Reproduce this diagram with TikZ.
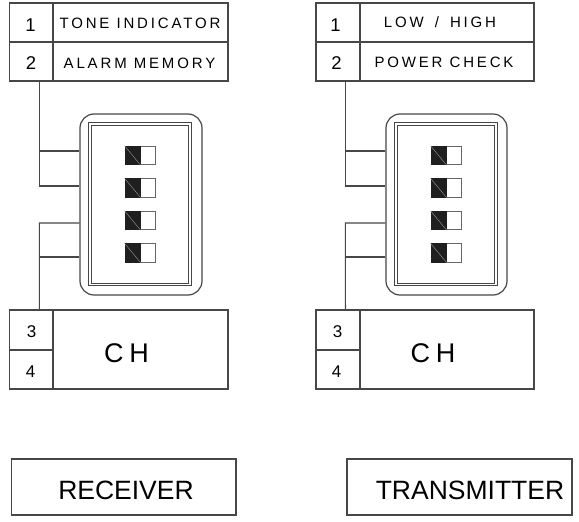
\documentclass[tikz,border=0pt]{standalone}
\usepackage{fontspec}
\setmainfont{Liberation Sans}
\newfontfamily\spaced[LetterSpace=19]{Liberation Sans}
\usetikzlibrary{calc}
\tikzset{
  ln/.style={draw=black!72, line width=1.1pt},
  cell/.style={ln, rectangle, inner sep=0pt},
  txt/.style={inner sep=0pt, text depth=0pt},
  numA/.style={txt, font=\fontsize{18.5}{18.5}\selectfont},
  numB/.style={txt, font=\fontsize{17}{17}\selectfont},
  lbl/.style={txt, font=\spaced\fontsize{15}{15}\selectfont},
  chtxt/.style={txt, font=\fontsize{27}{27}\selectfont},
  bigtxt/.style={txt, font=\fontsize{26.5}{26.5}\selectfont},
  dipbox/.style={ln, line width=1.2pt, rounded corners=14pt, inner sep=0pt},
  frame/.style={draw=black!72, line width=0.9pt},
  slotbox/.style={draw=black!60, line width=0.8pt, fill=white, inner sep=0pt, minimum width=30, minimum height=18.5},
  knob/.style={fill=black!88},
  gl/.style={draw=black!40, line width=0.4pt},
}
\begin{document}
\begin{tikzpicture}[x=1pt,y=-1pt]
\useasboundingbox (0,0) rectangle (579,522);

% ---------- left top table
\node[cell, minimum width=43.5, minimum height=39] (n1L) at (31.25,22.5) {};
\node[cell, minimum width=175, minimum height=39] (t1L) at (140.5,22.5) {};
\node[cell, minimum width=43.5, minimum height=39] (n2L) at (31.25,61.5) {};
\node[cell, minimum width=175, minimum height=39] (t2L) at (140.5,61.5) {};
\node[numA] (x1L) at (30.5,25) {1};
\node[numA] (x2L) at (31,63.3) {2};
\node[lbl] (y1L) at (140,23.3) {TONE INDICATOR};
\node[lbl] (y2L) at (139.5,63) {ALARM MEMORY};

% ---------- right top table
\node[cell, minimum width=44, minimum height=39] (n1R) at (338,22.5) {};
\node[cell, minimum width=174, minimum height=39] (t1R) at (447,22.5) {};
\node[cell, minimum width=44, minimum height=39] (n2R) at (338,61.5) {};
\node[cell, minimum width=174, minimum height=39] (t2R) at (447,61.5) {};
\node[numA] (x1R) at (335.5,25) {1};
\node[numA] (x2R) at (336.5,63.3) {2};
\node[lbl] (y1R) at (440,22.5) {LOW\hspace{4pt} / \hspace{4pt}HIGH};
\node[lbl] (y2R) at (444,62.5) {POWER CHECK};

% ---------- left bottom table
\node[cell, minimum width=43.5, minimum height=40] (n3L) at (31.25,330) {};
\node[cell, minimum width=43.5, minimum height=39] (n4L) at (31.25,369.5) {};
\node[cell, minimum width=175, minimum height=79] (chL) at (140.5,349.5) {};
\node[numB] (x3L) at (31.7,332) {3};
\node[numB] (x4L) at (30.5,372) {4};
\node[chtxt] (hL) at (126.5,352.7) {C\hspace{6pt}H};

% ---------- right bottom table
\node[cell, minimum width=44, minimum height=40] (n3R) at (338,330) {};
\node[cell, minimum width=44, minimum height=39] (n4R) at (338,369.5) {};
\node[cell, minimum width=174, minimum height=79] (chR) at (447,349.5) {};
\node[numB] (x3R) at (337.5,332) {3};
\node[numB] (x4R) at (336.5,372) {4};
\node[chtxt] (hR) at (433,352.7) {C\hspace{6pt}H};

% ---------- DIP switch blocks
\node[dipbox, minimum width=122, minimum height=181] (swL) at (141,204.5) {};
\draw[frame] ([shift={(9,9)}]swL.north west) rectangle ([shift={(-11,-10)}]swL.south east);
\draw[frame] ([shift={(12,12)}]swL.north west) rectangle ([shift={(-14,-12)}]swL.south east);

\node[dipbox, minimum width=121, minimum height=181] (swR) at (446.5,204.5) {};
\draw[frame] ([shift={(9,9)}]swR.north west) rectangle ([shift={(-10,-10)}]swR.south east);
\draw[frame] ([shift={(12,12)}]swR.north west) rectangle ([shift={(-13,-12)}]swR.south east);

\foreach \i/\yy in {1/155.5, 2/188, 3/220.5, 4/253}{
  \node[slotbox] (sL\i) at (140,\yy) {};
  \fill[knob] (sL\i.north west) rectangle ([xshift=16pt]sL\i.south west);
  \draw[gl] (sL\i.north west) -- ([xshift=16pt]sL\i.south west);
  \node[slotbox] (sR\i) at (446,\yy) {};
  \fill[knob] (sR\i.north west) rectangle ([xshift=16pt]sR\i.south west);
  \draw[gl] (sR\i.north west) -- ([xshift=16pt]sR\i.south west);
}

% ---------- connectors left
\draw[ln] ([xshift=30.5pt]n2L.south west) |- ([yshift=18.5pt]swL.west);
\draw[ln] ([yshift=53.5pt]swL.west) -- ++(-40,0);
\draw[ln] ([yshift=-52.5pt]swL.west) -- ++(-40,0);
\draw[ln] ([yshift=-18.5pt]swL.west) -- ++(-40,0) -- ([xshift=30.5pt]n3L.north west);

% ---------- connectors right
\draw[ln] ([xshift=30pt]n2R.south west) |- ([yshift=18.5pt]swR.west);
\draw[ln] ([yshift=53.5pt]swR.west) -- ++(-40,0);
\draw[ln] ([yshift=-52.5pt]swR.west) -- ++(-40,0);
\draw[ln] ([yshift=-18.5pt]swR.west) -- ++(-40,0) -- ([xshift=30pt]n3R.north west);

% ---------- bottom boxes
\node[cell, minimum width=224.3, minimum height=56] (rcv) at (123.8,487) {};
\node[bigtxt] (rcvT) at (126,490.3) {RECEIVER};
\node[cell, minimum width=225, minimum height=56] (trm) at (459.5,487) {};
\node[bigtxt] (trmT) at (470,490.3) {TRANSMITTER};
\end{tikzpicture}
\end{document}
